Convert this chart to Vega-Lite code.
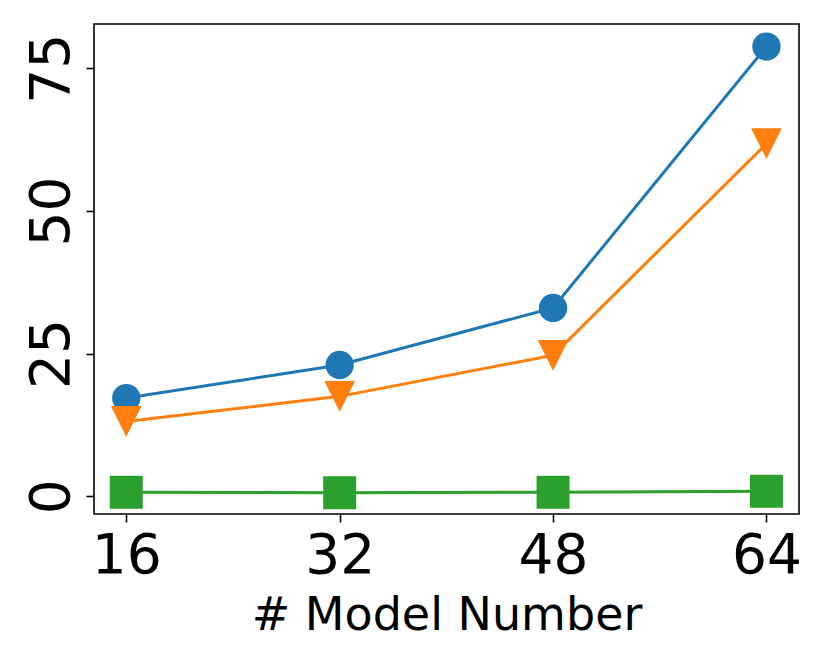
{
  "$schema": "https://vega.github.io/schema/vega-lite/v6.json",
  "autosize": {"type": "none"},
  "padding": {"left": 94, "top": 24, "right": 31, "bottom": 150},
  "width": 705,
  "height": 490,
  "background": "white",
  "config": {
    "view": {"stroke": "black", "strokeWidth": 1.6},
    "font": "DejaVu Sans",
    "axis": {"grid": false, "domain": false, "tickColor": "black", "tickWidth": 1.6, "tickSize": 8, "labelColor": "black", "titleColor": "black", "labelFont": "DejaVu Sans", "titleFont": "DejaVu Sans", "titleFontWeight": "normal"}
  },
  "data": {
    "values": [
      {"model": 16, "value": 17.2, "series": "A"},
      {"model": 32, "value": 23.0, "series": "A"},
      {"model": 48, "value": 33.0, "series": "A"},
      {"model": 64, "value": 78.8, "series": "A"},
      {"model": 16, "value": 13.1, "series": "B"},
      {"model": 32, "value": 17.5, "series": "B"},
      {"model": 48, "value": 24.7, "series": "B"},
      {"model": 64, "value": 61.8, "series": "B"},
      {"model": 16, "value": 0.7, "series": "C"},
      {"model": 32, "value": 0.6, "series": "C"},
      {"model": 48, "value": 0.7, "series": "C"},
      {"model": 64, "value": 0.85, "series": "C"}
    ]
  },
  "encoding": {
    "x": {
      "field": "model", "type": "quantitative",
      "scale": {"domain": [13.58, 66.44], "nice": false, "zero": false},
      "axis": {"values": [16, 32, 48, 64], "labelFontSize": 55, "labelBaseline": "alphabetic", "labelPadding": 50, "labelFlush": false, "labelOverlap": false,
               "title": "# Model Number", "titleFontSize": 46, "titleBaseline": "alphabetic", "titleY": 115.5}
    },
    "y": {
      "field": "value", "type": "quantitative",
      "scale": {"domain": [-3.12, 82.76], "nice": false, "zero": false},
      "axis": {"values": [0, 25, 50, 75], "labelFontSize": 55, "labelAngle": -90, "labelAlign": "center", "labelBaseline": "alphabetic", "labelPadding": 18, "labelFlush": false, "labelOverlap": false, "title": null}
    },
    "color": {
      "field": "series", "type": "nominal",
      "scale": {"domain": ["A", "B", "C"], "range": ["#1f77b4", "#ff7f0e", "#2ca02c"]},
      "legend": null
    }
  },
  "layer": [
    {"mark": {"type": "line", "strokeWidth": 3}},
    {
      "mark": {"type": "point", "filled": true, "opacity": 1},
      "encoding": {
        "shape": {
          "field": "series", "type": "nominal",
          "scale": {"domain": ["A", "B", "C"], "range": ["circle", "M-1,-1L1,-1L0,1Z", "square"]},
          "legend": null
        },
        "size": {
          "field": "series", "type": "nominal",
          "scale": {"domain": ["A", "B", "C"], "range": [804, 1089, 1024]},
          "legend": null
        }
      }
    }
  ]
}
